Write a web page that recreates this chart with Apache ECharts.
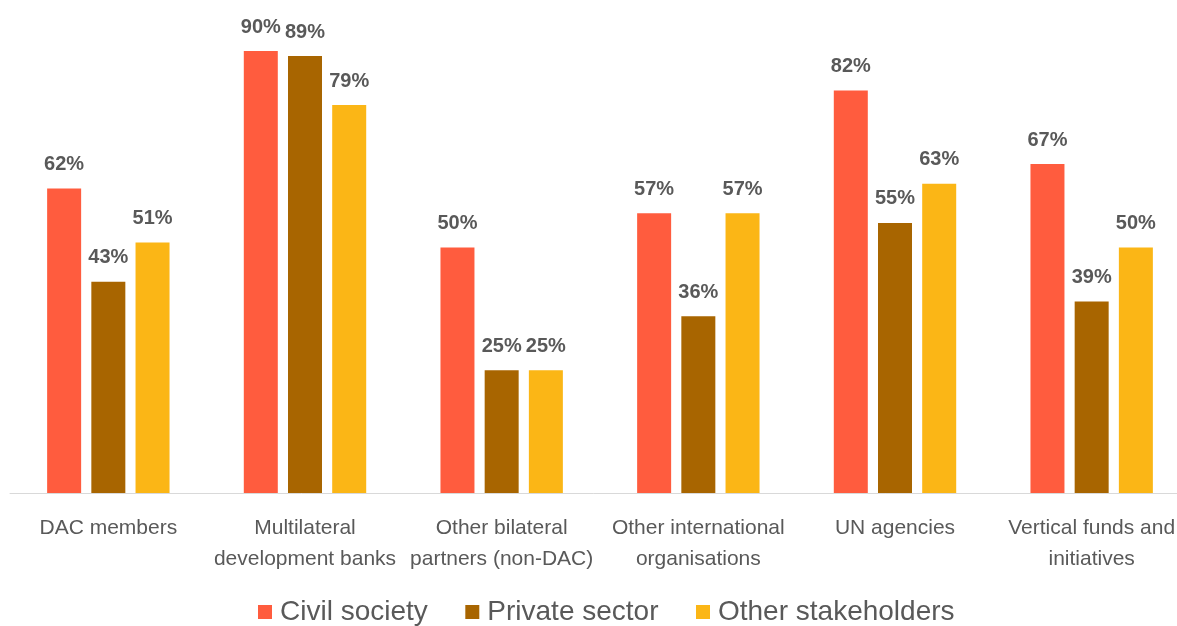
<!DOCTYPE html>
<html>
<head>
<meta charset="utf-8">
<script src="https://cdn.jsdelivr.net/npm/echarts@6/dist/echarts.min.js"></script>
<style>
html,body{margin:0;padding:0;background:#fff;}
#chart{width:1177px;height:626px;}
</style>
</head>
<body>
<div id="chart"></div>
<script>
const categories = ["DAC members", "Multilateral\ndevelopment banks", "Other bilateral\npartners (non-DAC)", "Other international\norganisations", "UN agencies", "Vertical funds and\ninitiatives"];
const seriesNames = ["Civil society", "Private sector", "Other stakeholders"];
const civilSociety = [62, 90, 50, 57, 82, 67];
const privateSector = [43, 89, 25, 36, 55, 39];
const otherStakeholders = [51, 79, 25, 57, 63, 50];
const colors = ["#FF5C3E", "#A86500", "#FBB616"];

const chart = echarts.init(document.getElementById('chart'));
const mk = (name, data, color) => ({
  name: name,
  type: 'bar',
  data: data,
  barWidth: 34,
  barGap: '30%',
  itemStyle: { color: color },
  label: {
    show: true,
    position: 'top',
    distance: 14,
    formatter: '{c}%',
    fontFamily: 'Liberation Sans, Arial, sans-serif',
    fontSize: 20,
    fontWeight: 'bold',
    color: '#595959'
  }
});
chart.setOption({
  animation: false,
  grid: { left: 10, right: -13, top: 2, bottom: 133, containLabel: false, outerBoundsMode: 'none' },
  legend: {
    top: 592,
    left: 253,
    icon: 'rect',
    itemWidth: 14,
    itemHeight: 14,
    itemGap: 37.5,
    textStyle: { fontFamily: 'Liberation Sans, Arial, sans-serif', fontSize: 28, color: '#595959', lineHeight: 30, padding: [0, 0, 0, 3] },
    data: seriesNames
  },
  xAxis: {
    type: 'category',
    data: categories,
    axisLine: { lineStyle: { color: '#D9D9D9', width: 1 } },
    axisTick: { show: false },
    axisLabel: {
      interval: 0,
      margin: 20,
      fontFamily: 'Liberation Sans, Arial, sans-serif',
      fontSize: 21,
      lineHeight: 31,
      color: '#595959'
    }
  },
  yAxis: {
    type: 'value',
    min: 0,
    max: 100,
    show: false,
    splitLine: { show: false }
  },
  series: [
    mk(seriesNames[0], civilSociety, colors[0]),
    mk(seriesNames[1], privateSector, colors[1]),
    mk(seriesNames[2], otherStakeholders, colors[2])
  ]
});
</script>
</body>
</html>
